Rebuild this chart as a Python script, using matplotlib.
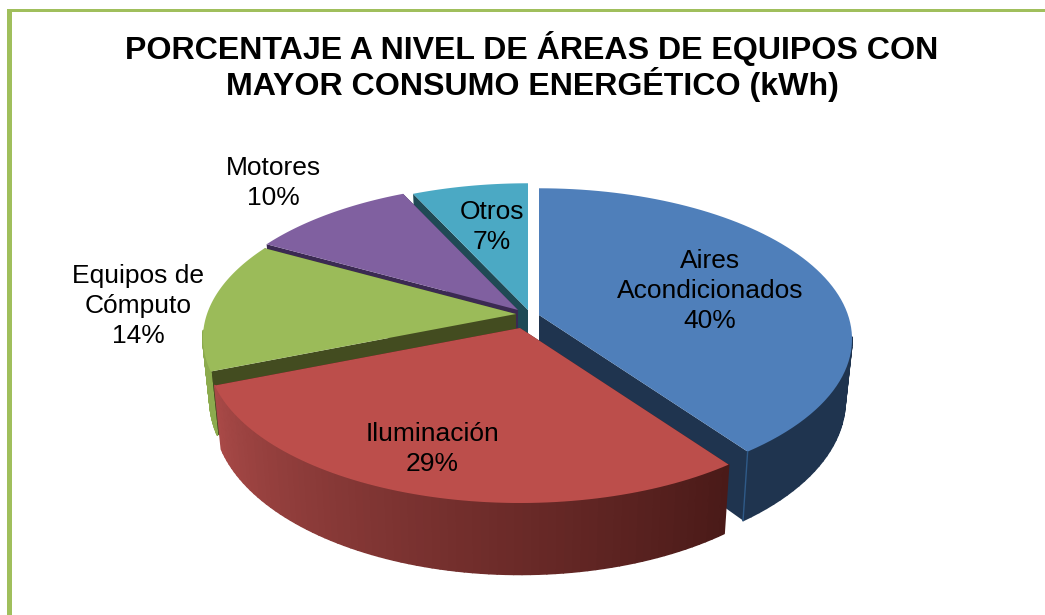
import numpy as np
import matplotlib
matplotlib.use('Agg')
import matplotlib.pyplot as plt
from matplotlib.collections import PolyCollection
from matplotlib.colors import to_rgb
from matplotlib.patches import Polygon, Rectangle

titulo = 'PORCENTAJE A NIVEL DE ÁREAS DE EQUIPOS CON\nMAYOR CONSUMO ENERGÉTICO (kWh)'
categorias = ['Aires\nAcondicionados', 'Iluminación', 'Equipos de\nCómputo', 'Motores', 'Otros']
valores = [40, 29, 14, 10, 7]

colores_top = ['#4F7FBA', '#BC4E4B', '#9BBB59', '#8060A0', '#4BA9C4']
colores_corte = ['#1F344F', '#4E1C1A', '#434C20', '#3B2A52', '#1F4A55']
colores_pared = [('#1F344F', '#1F344F'), ('#4A1A18', '#A84947'), ('#8CAB4E', '#8CAB4E'),
                 ('#3B2A52', '#3B2A52'), ('#1F4A55', '#1F4A55')]
centros = [(539, 315), (520, 328), (516, 314), (518, 310), (528, 310)]
pos_etiquetas = [(710, 291), (432, 449), (138, 306), (273, 183), (492, 227)]
orden = [4, 3, 2, 0, 1]

RX, RY, K, PROF = 309, 147, 0.16, 60


def proyectar(ang, cx, cy, bajo=False):
    # disco con perspectiva: lo de delante se ve mas grande
    w = 1 + K * np.cos(ang)
    x = RX * np.sin(ang) / w
    y = -RY * np.cos(ang) / w
    if bajo:
        return cx + x * 0.978, cy + y + PROF / w
    return cx + x, cy + y


def mezcla(c1, c2, t):
    return tuple((1 - t) * a + t * b for a, b in zip(to_rgb(c1), to_rgb(c2)))


fig = plt.figure(figsize=(10.45, 6.15), dpi=100)
ax = fig.add_axes([0, 0, 1, 1])
ax.set_xlim(0, 1045)
ax.set_ylim(615, 0)
ax.axis('off')

# marco verde
ax.add_patch(Rectangle((7, 9), 1038, 3, color='#A0BF5C', lw=0))
ax.add_patch(Rectangle((7, 9), 5, 606, color='#A0BF5C', lw=0))

fin = np.cumsum(valores) / np.sum(valores) * 2 * np.pi
ini = np.r_[0, fin[:-1]]

for i in orden:
    cx, cy = centros[i]
    ang = np.linspace(ini[i], fin[i], 80)
    xa, ya = proyectar(ang, cx, cy)
    xb, yb = proyectar(ang, cx, cy, bajo=True)

    # caras de corte
    for a in (ini[i], fin[i]):
        x1, y1 = proyectar(a, cx, cy)
        x2, y2 = proyectar(a, cx, cy, bajo=True)
        ax.add_patch(Polygon([(cx, cy), (x1, y1), (x2, y2), (cx, cy + PROF)],
                             color=colores_corte[i], lw=0))

    # pared exterior con degradado, solo la parte de delante
    delante = [j for j in range(len(ang) - 1) if np.cos(ang[j]) < -0.12]
    quads = [[(xa[j], ya[j]), (xa[j + 1], ya[j + 1]), (xb[j + 1], yb[j + 1]), (xb[j], yb[j])]
             for j in delante]
    cols = [mezcla(colores_pared[i][0], colores_pared[i][1], j / (len(ang) - 2))
            for j in delante]
    ax.add_collection(PolyCollection(quads, facecolors=cols, edgecolors=cols, linewidths=1.2))

    if i == 0:
        ax.plot([xa[-1], xb[-1]], [ya[-1], yb[-1]], color='#2F5A88', lw=1)

    # cara superior
    ax.add_patch(Polygon(np.c_[np.r_[cx, xa], np.r_[cy, ya]], color=colores_top[i], lw=0))

for nombre, v, (tx, ty) in zip(categorias, valores, pos_etiquetas):
    ax.text(tx, ty, f'{nombre}\n{v}%', ha='center', va='center', fontsize=19,
            family='Liberation Sans', color='black', linespacing=1.3)

ax.text(532, 66.5, titulo, ha='center', va='center', fontsize=23.1, fontweight='bold',
        family='Liberation Sans', color='black', linespacing=1.03)

fig.savefig('out.png', dpi=100)
